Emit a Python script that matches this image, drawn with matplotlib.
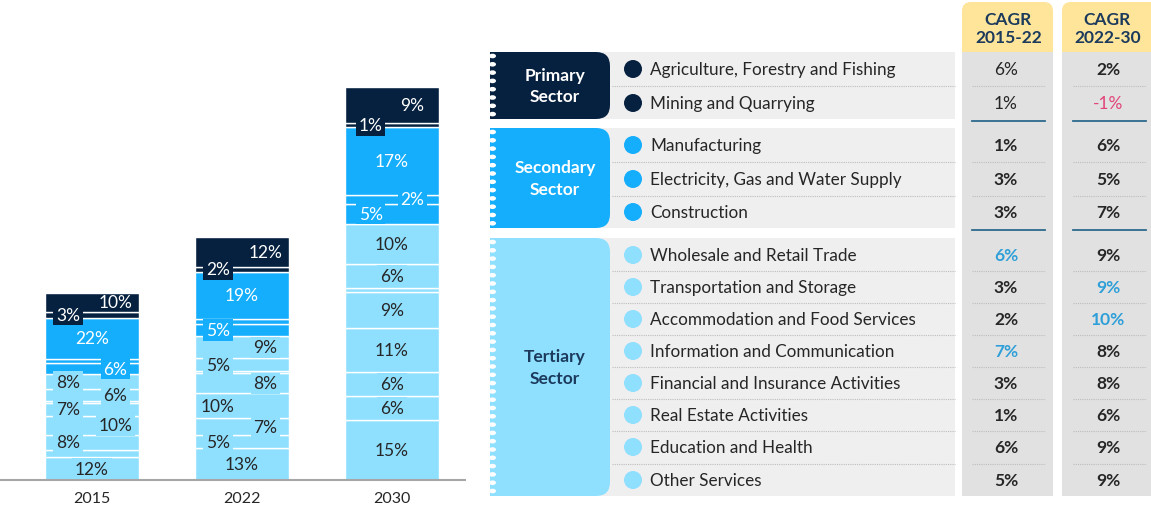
import numpy as np
import matplotlib
matplotlib.use('Agg')
import matplotlib.pyplot as plt
from matplotlib.patches import Rectangle, FancyBboxPatch, Circle, Ellipse

plt.rcParams['font.family'] = ['Lato', 'DejaVu Sans']

# ---- data ----
years = ['2015', '2022', '2030']
gdp_index = [100, 130, 210]          # total bar height, 2015 = 100

industries = ['Agriculture, Forestry and Fishing', 'Mining and Quarrying',
              'Manufacturing', 'Electricity, Gas and Water Supply', 'Construction',
              'Wholesale and Retail Trade', 'Transportation and Storage',
              'Accommodation and Food Services', 'Information and Communication',
              'Financial and Insurance Activities', 'Real Estate Activities',
              'Education and Health', 'Other Services']
sector_of = ['Primary'] * 2 + ['Secondary'] * 3 + ['Tertiary'] * 8

share_2015 = [10, 3, 22, 2, 6, 8, 6, 1, 7, 10, 8, 4, 12]
share_2022 = [12, 2, 19, 2, 5, 9, 5, 1, 8, 10, 7, 5, 13]
share_2030 = [9, 1, 17, 2, 5, 10, 6, 1, 9, 11, 6, 6, 15]
shares = [share_2015, share_2022, share_2030]

cagr_15_22 = [6, 1, 1, 3, 3, 6, 3, 2, 7, 3, 1, 6, 5]
cagr_22_30 = [2, -1, 6, 5, 7, 9, 9, 10, 8, 8, 6, 9, 9]
fast_15_22 = ['Wholesale and Retail Trade', 'Information and Communication']
fast_22_30 = ['Transportation and Storage', 'Accommodation and Food Services']

# ---- style ----
NAVY = '#06213F'
BLUE = '#15AEFD'
LIGHT = '#8FDFFF'
sector_col = {'Primary': NAVY, 'Secondary': BLUE, 'Tertiary': LIGHT}
TXT = '#262626'
HEAD = '#1B3A5C'

# where each value label sits inside its bar ('' = not labelled)
label_pos = [
    ['r', 'l', 'c', '', 'r', 'l', 'r', '', 'l', 'r', 'l', '', 'c'],
    ['r', 'l', 'c', '', 'l', 'r', 'l', '', 'r', 'l', 'r', 'l', 'c'],
    ['r', 'l', 'c', 'r', 'l', 'c', 'c', '', 'c', 'c', 'c', 'c', 'c'],
]

W, H = 1151, 510
fig = plt.figure(figsize=(W / 100, H / 100), dpi=100)

# ---- stacked bars ----
ax = fig.add_axes([0, 29 / H, 465 / W, 481 / H])
ax.set_xlim(-92 / 150, 373 / 150)
ax.set_ylim(0, 481 / 1.87)
bar_w = 94 / 150
for i, yr in enumerate(years):
    tot = sum(shares[i])
    bottom = 0
    for k in reversed(range(len(industries))):
        h = gdp_index[i] * shares[i][k] / tot
        col = sector_col[sector_of[k]]
        ax.bar(i, h, bottom=bottom, width=bar_w, color=col,
               edgecolor='white', linewidth=1)
        pos = label_pos[i][k]
        if pos:
            off = {'l': -0.16, 'r': 0.155, 'c': 0}[pos]
            if i == 2 and pos != 'c':
                off *= 0.88
            tc = TXT if sector_of[k] == 'Tertiary' else 'white'
            # top segment label needs no mask, it would poke out of the bar
            box = None if k == 0 else dict(boxstyle='square,pad=0.15', fc=col, ec='none')
            ax.text(i + off, bottom + h / 2, f'{shares[i][k]}%', ha='center',
                    va='center', fontsize=12.5, color=tc, zorder=5, bbox=box)
        bottom += h

for s in ['top', 'right', 'left']:
    ax.spines[s].set_visible(False)
ax.spines['bottom'].set_color('#A6A6A6')
ax.spines['bottom'].set_linewidth(1.5)
ax.set_yticks([])
ax.set_xticks(range(len(years)))
ax.set_xticklabels(years, fontsize=11.5, color=TXT)
ax.tick_params(axis='x', length=0, pad=8)

# ---- sector table (pixel coordinates) ----
tab = fig.add_axes([0, 0, 1, 1])
tab.set_xlim(0, W)
tab.set_ylim(H, 0)
tab.axis('off')
tab.patch.set_alpha(0)

row_y = [70, 104, 146, 180, 213, 256, 288, 320, 352, 384, 416, 448, 481]
groups = [('Primary', 0, 1), ('Secondary', 2, 4), ('Tertiary', 5, 12)]
c1, c2 = (962, 1053), (1062, 1160)

# CAGR columns
for (x0, x1), head in [(c1, 'CAGR\n2015-22'), (c2, 'CAGR\n2022-30')]:
    tab.add_patch(FancyBboxPatch((x0, 3), x1 - x0, 60,
                  boxstyle='round,pad=0,rounding_size=9', fc='#FFE599', ec='none'))
    tab.add_patch(Rectangle((x0, 53), x1 - x0, 444, fc='#E1E1E1', ec='none'))
    tab.text((x0 + min(x1, W)) / 2 + 1, 29, head, ha='center', va='center',
             fontsize=12.5, fontweight='bold', color=HEAD, linespacing=1.2)

for name, a, b in groups:
    col = sector_col[name]
    top, bot = row_y[a] - 17, row_y[b] + 16
    tab.add_patch(Rectangle((600, top), 355, bot - top, fc='#EFEFEF', ec='none'))
    tab.add_patch(FancyBboxPatch((490, top), 120, bot - top,
                  boxstyle='round,pad=0,rounding_size=14', fc=col, ec='none'))
    tab.add_patch(Rectangle((490, top), 30, bot - top, fc=col, ec='none'))
    for yy in np.arange(top + 4, bot - 2, 8.3):
        tab.add_patch(Ellipse((492.5, yy), 7, 4.6, fc='white', ec='none'))
    tc = HEAD if name == 'Tertiary' else 'white'
    tab.text(555, (top + bot) / 2, f'{name}\nSector', ha='center', va='center',
             fontsize=12.5, fontweight='bold', color=tc, linespacing=1.4)
    for r in range(a, b):
        ym = (row_y[r] + row_y[r + 1]) / 2
        for x0, x1 in [(612, 955), (972, 1045), (1073, 1146)]:
            tab.plot([x0, x1], [ym, ym], color='#BDBDBD', lw=0.8, ls=(0, (1, 1)))
    if name != 'Tertiary':
        for x0, x1 in [(972, 1045), (1073, 1146)]:
            tab.plot([x0, x1], [bot + 2, bot + 2], color='#2E6A8C', lw=1.3)

for k, ind in enumerate(industries):
    y = row_y[k]
    tab.add_patch(Circle((633, y), 9, fc=sector_col[sector_of[k]], ec='none'))
    tab.text(650, y, ind, ha='left', va='center', fontsize=12.3, color=TXT)

    v1, v2 = cagr_15_22[k], cagr_22_30[k]
    col1 = '#2E9FD8' if ind in fast_15_22 else TXT
    col2 = '#2E9FD8' if ind in fast_22_30 else ('#E2457A' if v2 < 0 else TXT)
    w1 = 'normal' if sector_of[k] == 'Primary' else 'bold'
    tab.text(1006, y, f'{v1}%', ha='center', va='center', fontsize=12.5,
             color=col1, fontweight=w1)
    tab.text(1108, y, f'{v2}%', ha='center', va='center', fontsize=12.5,
             color=col2, fontweight='normal' if v2 < 0 else 'bold')

fig.savefig('out.png', dpi=100)
